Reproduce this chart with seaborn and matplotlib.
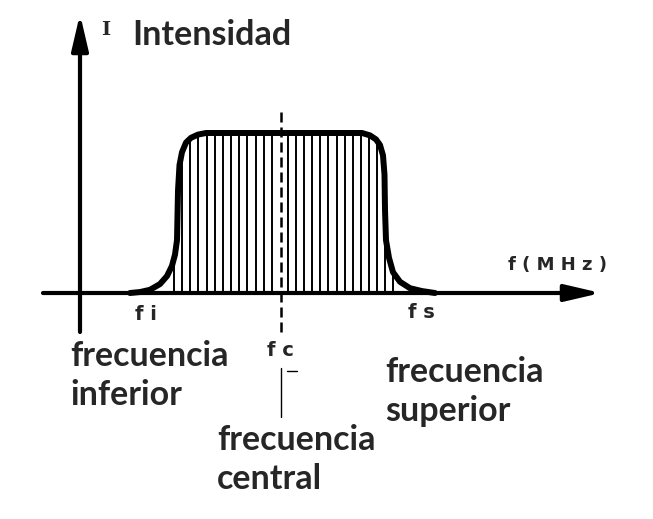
import numpy as np
import matplotlib
matplotlib.use("Agg")
import matplotlib.pyplot as plt
import seaborn as sns

# --- Datos (frecuencia arbitraria, intensidad relativa) ---
freq = [5.0, 6.0, 7.0, 8.0, 8.7, 9.2, 9.5, 9.7, 9.8, 9.95, 10.2, 10.6, 11.1, 11.8, 12.6,
        28.2, 29.0, 29.6, 30.0, 30.3, 30.45, 30.5, 30.6, 30.9, 31.3, 32.0, 33.0, 34.2, 35.5]
intensidad = [0.0, 0.006, 0.02, 0.056, 0.106, 0.17, 0.24, 0.33, 0.64, 0.8, 0.88, 0.94, 0.97, 0.99, 1.0,
              1.0, 0.985, 0.96, 0.925, 0.86, 0.74, 0.52, 0.33, 0.22, 0.13, 0.07, 0.03, 0.012, 0.0]
# lineas verticales del rayado
rayado = [9.4, 10.2, 11.0, 11.8, 12.7, 13.5, 14.3, 15.1, 15.9, 16.7, 17.6, 18.4, 19.2,
          20.8, 21.6, 22.4, 23.2, 24.0, 24.8, 25.7, 26.5, 27.3, 28.1, 28.9, 29.7, 30.5, 31.3]
f_central = 20.1

etiquetas = {"fi": "f i", "fc": "f c", "fs": "f s", "eje": "f ( M H z )"}

sns.set_theme(style="white")
plt.rcParams['font.family'] = ['Lato', 'DejaVu Sans']

fig = plt.figure(figsize=(6.53, 5.19), dpi=100)
ax = fig.add_axes([0, 0, 1, 1])
ax.set_xlim(-8, 57.3)
ax.set_ylim(-(519 - 293) / 160, 293 / 160)
ax.axis("off")


def px(x, y):
    # pixel de la imagen -> fraccion de figura
    return x / 653, 1 - y / 519


# ejes con flechas
flecha = dict(arrowstyle="-|>,head_length=1.2,head_width=0.28", lw=3, color="black",
              shrinkA=0, shrinkB=0, mutation_scale=18)
ax.annotate("", xy=(0, (293 - 14) / 160), xytext=(0, (293 - 332) / 160), arrowprops=flecha)
ax.annotate("", xy=(52.1, 0), xytext=(-3.7, 0), arrowprops=flecha)

# rayado bajo la curva
alturas = np.interp(rayado, freq, intensidad)
ax.vlines(rayado, 0, alturas, colors="black", linewidth=1.4)

# curva de la banda
sns.lineplot(x=freq, y=intensidad, sort=False, estimator=None, color="black", linewidth=4.3, ax=ax)
ax.lines[-1].set_solid_capstyle("round")
ax.lines[-1].set_solid_joinstyle("round")

# frecuencia central (discontinua) y linea de referencia
ax.plot([f_central, f_central], [(293 - 112) / 160, (293 - 332) / 160], color="black",
        linewidth=1.8, dashes=(4, 2))
ax.plot([f_central, f_central], [(293 - 368) / 160, (293 - 417) / 160], color="black", linewidth=1.0)
ax.plot([20.7, 21.7], [(293 - 371) / 160] * 2, color="black", linewidth=1.0)

# textos
fig.text(*px(106, 30), "I", family="DejaVu Serif", fontweight="bold", fontsize=14,
         ha="center", va="center")
fig.text(*px(132, 45), "Intensidad", fontsize=24.5, fontweight="bold", ha="left", va="baseline")

peq = dict(fontsize=14, fontweight="bold", family="DejaVu Sans", va="center")
fig.text(*px(146, 314), etiquetas["fi"], ha="center", **peq)
fig.text(*px(280, 350), etiquetas["fc"], ha="center", **peq)
fig.text(*px(421, 312), etiquetas["fs"], ha="center", **peq)
fig.text(*px(557, 265), etiquetas["eje"], ha="center", fontsize=13, fontweight="bold",
         family="DejaVu Sans", va="center")

grande = dict(fontsize=24.5, fontweight="bold", ha="left", va="baseline", linespacing=1.25)
fig.text(*px(70, 405), "frecuencia\ninferior", **grande)
fig.text(*px(385, 421), "frecuencia\nsuperior", **grande)
fig.text(*px(217, 489), "frecuencia\ncentral", **grande)

fig.savefig("out.png", dpi=100, facecolor="white")
